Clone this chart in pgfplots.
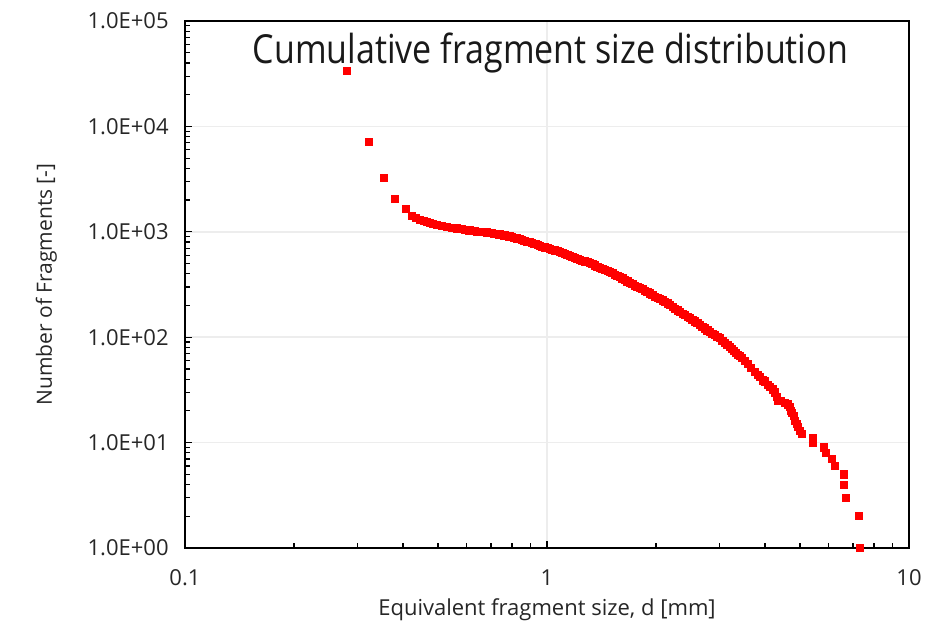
\documentclass[border=0pt]{standalone}
\usepackage{fontspec}
\setmainfont{Open Sans}
\newfontfamily\titlefont[FakeStretch=0.85]{Open Sans}
\usepackage{pgfplots}
\pgfplotsset{compat=1.18}
\begin{document}
\begin{tikzpicture}
\begin{axis}[
  scale only axis,
  width=362pt, height=263.5pt,
  xmode=log, ymode=log,
  xmin=0.1, xmax=10, ymin=1, ymax=100000,
  clip=false,
  axis line style={black, line width=1pt},
  tick align=inside,
  xtick pos=lower, ytick pos=left,
  major tick length=3.5pt, minor tick length=2.5pt,
  every tick/.style={black, line width=0.6pt},
  xtick={0.1,1,10}, xticklabels={0.1,1,10},
  ytick={1,10,100,1000,10000,100000},
  yticklabels={1.0E+00,1.0E+01,1.0E+02,1.0E+03,1.0E+04,1.0E+05},
  grid=major,
  major grid style={gray!14, line width=0.75pt},
  tick label style={font=\fontsize{11}{13}\selectfont, text=black!85},
  yticklabel style={anchor=east, inner sep=0pt, xshift=-8pt},
  xticklabel style={anchor=north, inner sep=0pt, yshift=-10.5pt},
  label style={font=\fontsize{11}{13}\selectfont, text=black!85},
  xlabel={Equivalent fragment size, d [mm]},
  xlabel style={at={(axis description cs:0.5,0)}, anchor=base, inner sep=0pt, yshift=-33.5pt},
  ylabel={Number of Fragments [-]},
  ylabel style={at={(axis description cs:-0.1837,0.5)}, anchor=base, inner sep=0pt, font=\fontsize{10.5}{12}\selectfont},
  title={Cumulative fragment size distribution},
  title style={at={(axis description cs:0.5047,1)}, anchor=base, inner sep=0pt, yshift=-27pt, font=\titlefont\fontsize{20}{24}\selectfont, text=black!90},
]
\addplot[only marks, mark=square*, mark size=1.8pt, draw=red, fill=red, color=red] coordinates {
(0.2804,33500) (0.3224,7100) (0.3545,3240) (0.3802,2050) (0.4078,1646)
(0.4237,1412) (0.4346,1352) (0.4458,1294) (0.4573,1266) (0.4661,1239)
(0.4751,1212) (0.4843,1186) (0.4968,1160) (0.5129,1135) (0.5295,1110)
(0.5467,1087) (0.5555,1081) (0.5644,1075) (0.5734,1069) (0.5827,1063)
(0.5920,1051) (0.6012,1040) (0.6108,1029) (0.6207,1018) (0.6306,1012)
(0.6408,1006) (0.6511,1001) (0.6615,996) (0.6721,990) (0.6827,985)
(0.6936,979) (0.7047,974) (0.7160,963) (0.7275,953) (0.7392,943)
(0.7511,933) (0.7631,923) (0.7752,913) (0.7876,903) (0.8003,893)
(0.8131,878) (0.8262,864) (0.8394,850) (0.8530,836) (0.8667,822)
(0.8807,809) (0.8948,796) (0.9091,783) (0.9207,774) (0.9324,766)
(0.9444,749) (0.9565,733) (0.9718,721) (0.9874,710) (1.0032,698)
(1.0193,687) (1.0356,676) (1.0522,665) (1.0691,654) (1.0862,643)
(1.1036,629) (1.1213,616) (1.1393,602) (1.1575,589) (1.1761,576)
(1.1949,564) (1.2140,552) (1.2335,540) (1.2533,531) (1.2735,523)
(1.2939,514) (1.3146,506) (1.3357,492) (1.3571,479) (1.3788,466)
(1.4010,454) (1.4234,444) (1.4463,434) (1.4695,425) (1.4928,416)
(1.5167,404) (1.5411,393) (1.5658,383) (1.5911,373) (1.6166,361)
(1.6425,349) (1.6688,338) (1.6955,327) (1.7227,318) (1.7503,309)
(1.7783,301) (1.8068,293) (1.8358,285) (1.8652,277) (1.8951,268)
(1.9256,260) (1.9565,251) (1.9878,243) (2.0197,236) (2.0521,230)
(2.0850,223) (2.1184,216) (2.1523,209) (2.1869,202) (2.2219,194)
(2.2576,187) (2.2938,180) (2.3305,173) (2.3678,167) (2.4058,162)
(2.4443,157) (2.4831,152) (2.5229,146) (2.5634,141) (2.6045,136)
(2.6464,131) (2.6888,126) (2.7320,121) (2.7758,116) (2.8204,112)
(2.8656,108) (2.9114,105) (2.9580,101) (3.0056,98) (3.0538,93)
(3.1026,89) (3.1523,85) (3.2029,81) (3.2442,77) (3.2857,74)
(3.3277,71) (3.3700,68) (3.4132,66) (3.4570,64)
(3.5237,60) (3.5910,56) (3.6603,51) (3.7547,47) (3.8271,44)
(3.8759,42) (3.9508,39) (4.0012,38) (4.0785,35) (4.1305,34)
(4.2102,32) (4.2639,30) (4.3186,27) (4.3461,25) (4.4300,25)
(4.5446,24) (4.6312,23) (4.6912,22) (4.7210,20) (4.7515,19)
(4.8121,18) (4.8432,16) (4.9049,15) (4.9366,14) (4.9994,13)
(5.0632,12) (5.4301,11) (5.4301,10) (5.8224,9) (5.8966,8)
(6.1263,7) (6.2445,6) (6.6130,5) (6.6130,4) (6.6988,3)
(7.2761,2) (7.3221,1)
};
\end{axis}
\pgfresetboundingbox
\path[use as bounding box] ([shift={(-92.5pt,-37.5pt)}]current axis.south west) rectangle ([shift={(17pt,10.5pt)}]current axis.north east);
\end{tikzpicture}
\end{document}
